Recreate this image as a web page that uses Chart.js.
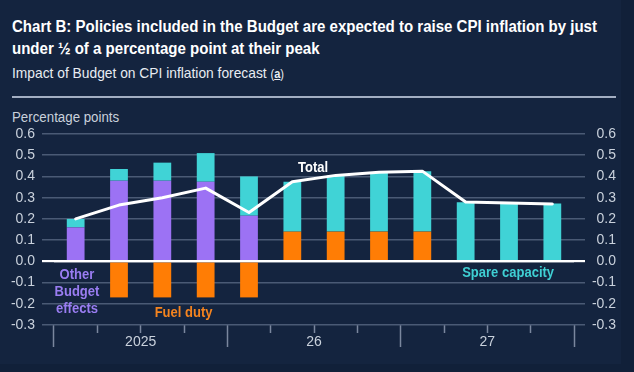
<!DOCTYPE html>
<html>
<head>
<meta charset="utf-8">
<script src="https://cdn.jsdelivr.net/npm/chart.js@4.4.1/dist/chart.umd.min.js"></script>
<style>
  body { margin: 0; background: #112039; }
  #wrap { position: relative; width: 634px; height: 372px; background: #112039; overflow: hidden;
          font-family: "Liberation Sans", Arial, sans-serif; color: #fff; }
  #panel { position: absolute; left: 0; top: 0; width: 621px; height: 364px; background: #14243f; }
  .txt { position: absolute; left: 12px; white-space: nowrap; transform-origin: left top; }
  #title { top: 16px; font-size: 16px; line-height: 22px; font-weight: bold; transform: scaleX(0.94); }
  #subtitle { top: 64px; font-size: 15px; line-height: 18px; color: #e8ecf2; transform: scaleX(0.92); }
  #units { top: 108px; font-size: 14px; line-height: 18px; color: #c9d1dc; transform: scaleX(0.95); }
  #rule { position: absolute; left: 12px; top: 96px; width: 604px; height: 2px; background: #a3aec2; }
  canvas { position: absolute; left: 0; top: 0; }
</style>
</head>
<body>
<div id="wrap">
  <div id="panel"></div>
  <div id="title" class="txt">Chart B: Policies included in the Budget are expected to raise CPI inflation by just<br>under ½ of a percentage point at their peak</div>
  <div id="subtitle" class="txt">Impact of Budget on CPI inflation forecast <span style="font-size:12px">(<b><u>a</u></b>)</span></div>
  <div id="rule"></div>
  <div id="units" class="txt">Percentage points</div>
  <canvas id="chart" width="634" height="372"></canvas>
</div>
<script>
// quarters 2025 Q1 .. 2027 Q4
const quarters = ['2025 Q1', '2025 Q2', '2025 Q3', '2025 Q4',
                  '2026 Q1', '2026 Q2', '2026 Q3', '2026 Q4',
                  '2027 Q1', '2027 Q2', '2027 Q3', '2027 Q4'];
const yearLabels = ['', '2025', '', '', '', '26', '', '', '', '27', '', ''];

const fuelDuty = [0, -0.17, -0.17, -0.17, -0.17, 0.14, 0.14, 0.14, 0.14, 0, 0, 0];
const otherBudget = [0.16, 0.38, 0.38, 0.375, 0.215, 0, 0, 0, 0, 0, 0, 0];
const spareCapacity = [0.04, 0.055, 0.085, 0.135, 0.185, 0.235, 0.265, 0.28, 0.285, 0.278, 0.272, 0.272];
const total = [0.20, 0.265, 0.30, 0.345, 0.23, 0.375, 0.405, 0.42, 0.425, 0.28, 0.275, 0.27];

const yTicks = [-0.3, -0.2, -0.1, 0, 0.1, 0.2, 0.3, 0.4, 0.5, 0.6];

// in-chart labels, placed in data units (category index, value)
const notes = [
    { text: ['Other', 'Budget', 'effects'], x: 0.03, y: -0.145, color: '#9a7df2' },
    { text: ['Fuel duty'], x: 2.49, y: -0.244, color: '#f5841f' },
    { text: ['Total'], x: 5.48, y: 0.44, color: '#ffffff' },
    { text: ['Spare capacity'], x: 9.98, y: -0.056, color: '#3fcfd3' }
];

const gridGrey = '#4a5a75';
const tickGrey = '#c9d1dc';
const isZero = v => Math.abs(v) < 1e-9;

const notesPlugin = {
    id: 'notes',
    afterDatasetsDraw(chart) {
        const ctx = chart.ctx;
        const xs = chart.scales.x, ys = chart.scales.y;
        ctx.save();
        ctx.font = 'bold 14px "Liberation Sans", Arial, sans-serif';
        ctx.textAlign = 'center';
        ctx.textBaseline = 'middle';
        notes.forEach(n => {
            const cx = xs.getPixelForValue(n.x);
            const cy = ys.getPixelForValue(n.y);
            const lh = 17;
            const top = cy - (n.text.length - 1) * lh / 2;
            ctx.fillStyle = n.color;
            n.text.forEach((t, i) => {
                ctx.save();
                ctx.translate(cx, top + i * lh);
                ctx.scale(0.93, 1);
                ctx.fillText(t, 0, 0);
                ctx.restore();
            });
        });
        ctx.restore();
    }
};

const yCommon = {
    stacked: true,
    min: -0.3,
    max: 0.6,
    border: { display: false },
    afterBuildTicks: scale => { scale.ticks = yTicks.map(v => ({ value: v })); },
};

new Chart(document.getElementById('chart'), {
    data: {
        labels: quarters,
        datasets: [
            { type: 'line', label: 'Total', data: total, stack: 'line', order: 0,
              borderColor: '#ffffff', borderWidth: 3, pointRadius: 0, tension: 0,
              borderJoinStyle: 'round', borderCapStyle: 'round' },
            { type: 'bar', label: 'Fuel duty', data: fuelDuty, stack: 'bars', order: 1,
              backgroundColor: '#ff7d05' },
            { type: 'bar', label: 'Other Budget effects', data: otherBudget, stack: 'bars', order: 1,
              backgroundColor: '#9c72f4' },
            { type: 'bar', label: 'Spare capacity', data: spareCapacity, stack: 'bars', order: 1,
              backgroundColor: '#40d3d6' }
        ]
    },
    options: {
        responsive: false,
        animation: false,
        layout: { padding: { top: 134, left: 0, right: 18, bottom: 0 } },
        datasets: { bar: { categoryPercentage: 1, barPercentage: 0.41 } },
        plugins: { legend: { display: false }, tooltip: { enabled: false } },
        scales: {
            x: {
                stacked: true,
                border: { display: false },
                afterFit: scale => { scale.height = 47; },
                grid: {
                    offset: true,
                    drawOnChartArea: false,
                    tickLength: 22,
                    tickWidth: 1.5,
                    tickColor: '#7a879e',
                    // long ticks on year boundaries, short on quarters
                    tickBorderDash: ctx => (ctx.index === undefined || ctx.index % 4 === 0) ? [] : [8, 60]
                },
                ticks: {
                    autoSkip: false,
                    maxRotation: 0,
                    padding: -13,
                    labelOffset: 520 / 24,
                    color: tickGrey,
                    font: { family: '"Liberation Sans", Arial, sans-serif', size: 14 },
                    callback: (v, i) => yearLabels[i]
                }
            },
            y: {
                ...yCommon,
                position: 'left',
                afterFit: scale => { scale.width = 54; },
                grid: {
                    z: 1,
                    tickLength: 12,
                    color: ctx => isZero(ctx.tick.value) ? '#ffffff' : 'rgba(0,0,0,0)',
                    lineWidth: ctx => isZero(ctx.tick.value) ? 2.2 : 1.5,
                    tickColor: ctx => isZero(ctx.tick.value) ? '#ffffff' : gridGrey
                },
                ticks: {
                    padding: 7,
                    color: tickGrey,
                    font: { family: '"Liberation Sans", Arial, sans-serif', size: 14 },
                    callback: v => v.toFixed(1)
                }
            },
            y2: {
                ...yCommon,
                position: 'right',
                afterFit: scale => { scale.width = 42; },
                grid: {
                    tickLength: 11,
                    color: ctx => isZero(ctx.tick.value) ? '#ffffff' : gridGrey,
                    lineWidth: ctx => isZero(ctx.tick.value) ? 2.2 : 1.5
                },
                ticks: {
                    padding: 7,
                    crossAlign: 'far',
                    color: tickGrey,
                    font: { family: '"Liberation Sans", Arial, sans-serif', size: 14 },
                    callback: v => v.toFixed(1)
                }
            }
        }
    },
    plugins: [notesPlugin]
});
</script>
</body>
</html>
